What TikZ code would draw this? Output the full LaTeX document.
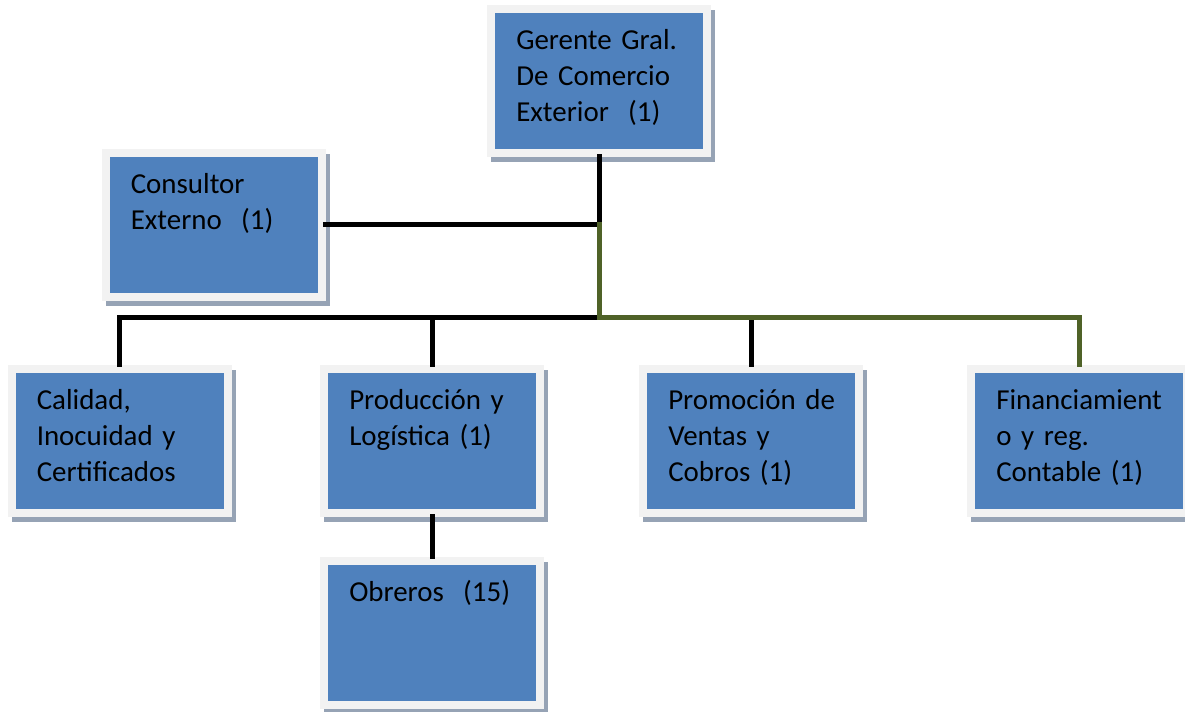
\documentclass[tikz,border=0pt]{standalone}
\usepackage{fontspec}
\setmainfont{Carlito}

\definecolor{boxblue}{HTML}{4F81BD}
\definecolor{framegray}{HTML}{F2F2F2}
\definecolor{shadowgray}{HTML}{96A3B5}
\definecolor{linegreen}{HTML}{4F6228}

\begin{document}
\begin{tikzpicture}[x=0.75pt, y=-0.75pt,
                    unit/.style = {shape=rectangle, fill=boxblue,
                        draw=framegray, line width=6pt, inner sep=0pt,
                        minimum width=162pt, minimum height=108pt,
                        preaction={draw=shadowgray, fill=shadowgray, line width=6pt,
                            transform canvas={shift={(4,5)}}}},
                    txt/.style = {anchor=base west, inner sep=0pt,
                        text width=150pt, align=left,
                        font=\fontsize{21.7}{27}\selectfont},
                    link/.style = {line width=3.75pt, line cap=rect},
                    greenlink/.style = {link, draw=linegreen}]

        \useasboundingbox (0,0) rectangle (1185,712);

        % boxes
        \node[unit] (ger)  at (599,81)    {};
        \node[unit] (con)  at (213.5,225) {};
        \node[unit] (cal)  at (119.5,441) {};
        \node[unit] (pro)  at (432,441)   {};
        \node[unit] (prom) at (751,441)   {};
        \node[unit] (fin)  at (1079,441)  {};
        \node[unit] (obr)  at (432,632.5) {};

        % texts
        \node[txt] (ger-t)  at ([shift={(29,45)}]ger.north west)  {Gerente Gral.\\ De Comercio\\ Exterior\ \ (1)};
        \node[txt] (con-t)  at ([shift={(29,45)}]con.north west)  {Consultor\\ Externo\ \ (1)};
        \node[txt] (cal-t)  at ([shift={(29,45)}]cal.north west)  {Calidad,\\ Inocuidad y\\ Certificados};
        \node[txt] (pro-t)  at ([shift={(29,45)}]pro.north west)  {Producción y\\ Logística (1)};
        \node[txt] (prom-t) at ([shift={(29,45)}]prom.north west) {Promoción de\\ Ventas y\\ Cobros (1)};
        \node[txt] (fin-t)  at ([shift={(29,45)}]fin.north west)  {Financiamient\\ o y reg.\\ Contable (1)};
        \node[txt] (obr-t)  at ([shift={(29,45)}]obr.north west)  {Obreros\ \ (15)};

        % connectors
        \coordinate (hub) at (ger.south |- con.east);
        \coordinate (bus) at (599,318);
        \draw[link] (ger.south) -- (hub);
        \draw[link] (con.east) -- (hub);
        \draw[link] (cal.north) -- (cal.north |- bus) -- (bus);
        \draw[link] (pro.north) -- (pro.north |- bus);
        \draw[link] (prom.north) -- (prom.north |- bus);
        \draw[link] (pro.south) -- (obr.north);
        \draw[greenlink] (hub) -- (bus) -- (bus -| fin.north) -- (fin.north);

\end{tikzpicture}
\end{document}
